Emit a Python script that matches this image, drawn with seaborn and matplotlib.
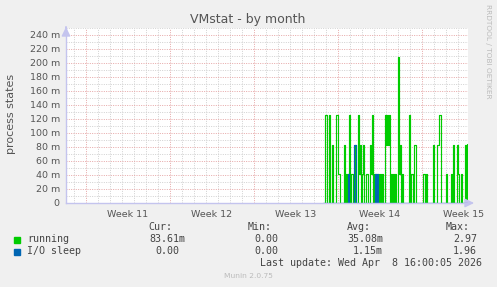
import numpy as np
import pandas as pd
import matplotlib
matplotlib.use("Agg")
import matplotlib.pyplot as plt
import seaborn as sns
from matplotlib.patches import Rectangle
from matplotlib.ticker import FuncFormatter, FixedLocator

# ---- data (values in milli "process states", one value per 2-hour bin) ----
running = [0, 0, 125, 125, 0, 0, 125, 0, 0, 83.3,
           0, 0, 0, 125, 125, 41.7, 41.7, 0, 0, 0,
           0, 83.3, 0, 41.7, 0, 41.7, 125, 0, 41.7, 41.7,
           0, 0, 83.3, 0, 0, 125, 41.7, 83.3, 0, 41.7,
           83.3, 0, 0, 41.7, 41.7, 0, 0, 83.3, 41.7, 125,
           0, 41.7, 41.7, 41.7, 0, 41.7, 0, 41.7, 0, 41.7,
           0, 0, 125, 83.3, 125, 83.3, 125, 0, 41.7, 0,
           41.7, 0, 41.7, 0, 0, 208.3, 41.7, 83.3, 0, 41.7,
           0, 0, 0, 0, 0, 0, 125, 0, 41.7, 41.7,
           0, 83.3, 83.3, 0, 0, 0, 0, 0, 0, 0,
           41.7, 41.7, 0, 41.7, 0, 0, 0, 0, 0, 0,
           83.3, 0, 0, 0, 83.3, 83.3, 125, 125, 0, 0,
           0, 0, 0, 41.7, 0, 0, 0, 0, 41.7, 0,
           83.3, 0, 0, 0, 83.3, 41.7, 0, 0, 41.7, 0,
           0, 0, 83.3, 0, 83.61]
io_sleep = [0, 0, 0, 0, 0, 0, 0, 0, 0, 0,
            0, 0, 0, 0, 0, 0, 0, 0, 0, 0,
            0, 0, 0, 0, 0, 41.7, 0, 0, 0, 0,
            0, 83.3, 83.3, 0, 0, 0, 0, 0, 0, 0,
            0, 0, 0, 0, 0, 0, 0, 0, 0, 0,
            0, 0, 41.7, 0, 41.7, 0, 0, 0, 0, 0,
            0, 0, 0, 0, 0, 0, 0, 0, 0, 0,
            0, 0, 0, 0, 0, 0, 0, 0, 0, 0,
            0, 0, 0, 0, 0, 0, 0, 0, 0, 0,
            0, 0, 0, 0, 0, 0, 0, 0, 0, 0,
            0, 0, 0, 0, 0, 0, 0, 0, 0, 0,
            0, 0, 0, 0, 0, 0, 0, 0, 0, 0,
            0, 0, 0, 0, 0, 0, 0, 0, 0, 0,
            0, 0, 0, 0, 0, 0, 0, 0, 0, 0,
            0, 0, 0, 0, 0]
first_hour = 514          # hours since left edge of the graph
step_hours = 2
axis_hours = 804
week_labels = ["Week 11", "Week 12", "Week 13", "Week 14", "Week 15"]
week_label_hours = [124, 292, 460, 628, 796]
week_start_hours = [40, 208, 376, 544, 712]
y_ticks = list(range(0, 241, 20))
stat_headers = ["Cur:", "Min:", "Avg:", "Max:"]
series_names = ["running", "I/O sleep"]
series_colors = ["#00cc00", "#0066b3"]
running_stats = ["83.61m", "0.00", "35.08m", "2.97"]
io_stats = ["0.00", "0.00", "1.15m", "1.96"]

sns.set_theme(style="white")
plt.rcParams["font.family"] = ["DejaVu Sans"]

W, H = 497, 287
fig = plt.figure(figsize=(W / 100, H / 100), dpi=100, facecolor="#f0f0f0")
ax = fig.add_axes([66 / W, 1 - 203 / H, (468 - 66) / W, (203 - 28) / H])
ax.set_facecolor("white")

hours = first_hour + step_hours * np.arange(len(running))
df = pd.DataFrame({"hours": hours, "running": running, "io": io_sleep})

MAJ = "#e6a6a6"
MIN = "#d0d0d0"
dot = (0, (1, 1.4))
# grid
for h in range(16, axis_hours, 24):
    if h in week_start_hours:
        continue
    ax.axvline(h, color=MIN, lw=0.7, ls=dot, zorder=1)
for h in week_start_hours:
    ax.axvline(h, color=MAJ, lw=0.7, ls=dot, zorder=1)
for v in range(10, 251, 10):
    ax.axhline(v, color=MAJ if v % 20 == 0 else MIN, lw=0.7, ls=dot, zorder=1)

sns.lineplot(data=df, x="hours", y="running", ax=ax, color=series_colors[0],
             lw=0.85, drawstyle="steps-mid", estimator=None, zorder=3)
sns.lineplot(data=df, x="hours", y="io", ax=ax, color=series_colors[1],
             lw=0.85, drawstyle="steps-mid", estimator=None, zorder=4)

ax.set_xlim(0, axis_hours)
ax.set_ylim(0, 250)
ax.set_xlabel("")
ax.set_ylabel("")
ax.xaxis.set_major_locator(FixedLocator(week_label_hours))
ax.set_xticklabels(week_labels)
ax.yaxis.set_major_locator(FixedLocator(y_ticks))
ax.yaxis.set_major_formatter(FuncFormatter(lambda v, p: "0" if v == 0 else f"{v:.0f} m"))
ax.tick_params(axis="both", length=0, labelsize=6.8, labelcolor="#555555")
ax.tick_params(axis="x", pad=5)
ax.tick_params(axis="y", pad=4.5)

for s in ["top", "right"]:
    ax.spines[s].set_visible(False)
AX = "#c4c4ee"
for s in ["left", "bottom"]:
    ax.spines[s].set_color(AX)
    ax.spines[s].set_linewidth(1.0)
    ax.spines[s].set_zorder(6)
ax.annotate("", xy=(1.022, 0), xytext=(0.99, 0), xycoords="axes fraction",
            arrowprops=dict(arrowstyle="-|>,head_length=0.45,head_width=0.22",
                            color=AX, lw=1), annotation_clip=False)
ax.annotate("", xy=(0, 1.022), xytext=(0, 0.99), xycoords="axes fraction",
            arrowprops=dict(arrowstyle="-|>,head_length=0.45,head_width=0.22",
                            color=AX, lw=1), annotation_clip=False)

def fx(px):
    return px / W

def fy(py):
    return 1 - py / H

fig.text(fx(248), fy(19), "VMstat - by month", ha="center", va="center",
         fontsize=9, color="#555555")
fig.text(fx(11), fy(114), "process states", ha="center", va="center",
         rotation=90, fontsize=8, color="#555555")
fig.text(fx(488), fy(4), "RRDTOOL / TOBI OETIKER", ha="center", va="top",
         rotation=270, fontsize=5.3, color="#bbbbbb")

mono = dict(family="DejaVu Sans Mono", fontsize=7.2, color="#444444", va="center")
header_right = [172, 272, 371, 470]
for t, xr in zip(stat_headers, header_right):
    fig.text(fx(xr), fy(227), t, ha="right", **mono)
run_right = [185, 278, 383, 477]
io_right = [179, 278, 383, 477]
for t, xr in zip(running_stats, run_right):
    fig.text(fx(xr), fy(239.5), t, ha="right", **mono)
for t, xr in zip(io_stats, io_right):
    fig.text(fx(xr), fy(251.5), t, ha="right", **mono)
for name, col, yy in zip(series_names, series_colors, [239.5, 251.5]):
    fig.patches.append(Rectangle((fx(14), fy(yy + 3)), 6 / W, 6 / H,
                                 transform=fig.transFigure, color=col))
    fig.text(fx(27), fy(yy), name, ha="left", **mono)
fig.text(fx(482), fy(263.5), "Last update: Wed Apr  8 16:00:05 2026",
         ha="right", **mono)
fig.text(fx(248), fy(276), "Munin 2.0.75", ha="center", va="center",
         fontsize=5.4, color="#bbbbbb")

fig.savefig("out.png", dpi=100, facecolor=fig.get_facecolor())
